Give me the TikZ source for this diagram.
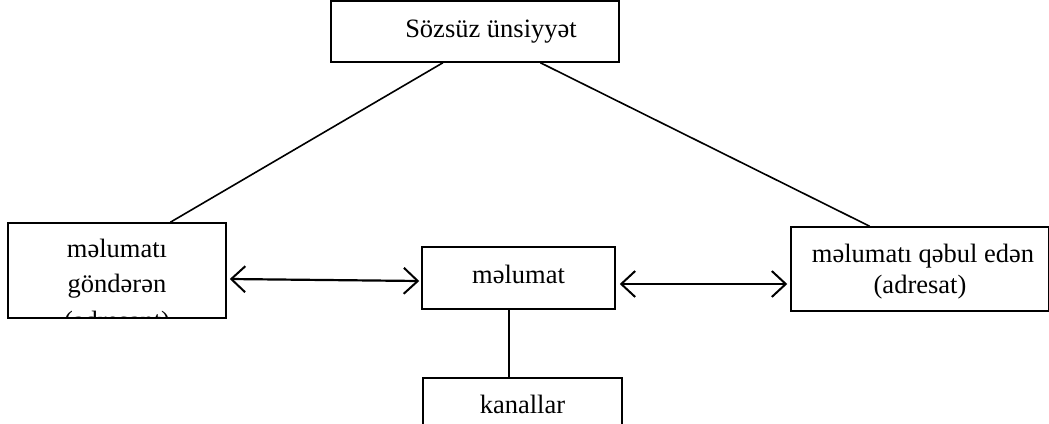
\documentclass[tikz,border=0pt]{standalone}
\usepackage{fontspec}
\setmainfont{Liberation Serif}
\usetikzlibrary{arrows.meta,calc}
\begin{document}
\begin{tikzpicture}[x=1pt,y=-1pt,
  box/.style={draw,line width=1.5pt,inner sep=0pt,fill=white},
  lbl/.style={inner sep=0pt,anchor=base,font=\fontsize{26.5}{31}\selectfont},
  con/.style={line width=1.6pt},
  dbl/.style={line width=2.2pt,{Straight Barb[length=14pt,width=26pt,line width=2pt]}-{Straight Barb[length=14pt,width=26pt,line width=2pt]}}]
\useasboundingbox (0,0) rectangle (1049,423);
% boxes
\node[box,minimum width=288pt,minimum height=61pt] (top) at (475,31.5) {};
\node[box,minimum width=218pt,minimum height=95pt] (L) at (117,270.5) {};
\node[box,minimum width=258pt,minimum height=84pt] (R) at (920,269) {};
\node[box,minimum width=193pt,minimum height=62pt] (M) at (518.5,278) {};
\node[box,minimum width=199pt,minimum height=60pt] (K) at (522.5,408) {};
% texts
\node[lbl] (tt) at (491,37) {Sözsüz ünsiyyət};
\node[lbl] (l1) at (117,257) {məlumatı};
\node[lbl] (l2) at (117,292) {göndərən};
\begin{scope}
\clip (10,225) rectangle (224,316.5);
\node[lbl] (l3) at (117,329) {(adresant)};
\end{scope}
\node[lbl] (r1) at (923,262) {məlumatı qəbul edən};
\node[lbl] (r2) at (920,293) {(adresat)};
\node[lbl] (mt) at (518.5,283) {məlumat};
\node[lbl] (kt) at (522.5,413) {kanallar};
% connectors
\coordinate (t1) at ($(top.south west)!0.389!(top.south east)$);
\coordinate (t2) at ($(top.south west)!0.726!(top.south east)$);
\coordinate (lt) at ($(L.north west)!0.743!(L.north east)$);
\coordinate (rt) at ($(R.north west)!0.306!(R.north east)$);
\draw[con] (t1) -- (lt);
\draw[con] (t2) -- (rt);
\coordinate (mb) at ($(M.south west)!0.451!(M.south east)$);
\draw[con] (mb) -- (mb |- K.north);
\draw[dbl] ([xshift=3pt,yshift=-8.5pt]L.east) -- ([xshift=-2pt,yshift=-3pt]M.west);
\draw[dbl] ([xshift=4pt,yshift=-6pt]M.east) -- ([xshift=-3pt,yshift=-15pt]R.west);
\end{tikzpicture}
\end{document}
